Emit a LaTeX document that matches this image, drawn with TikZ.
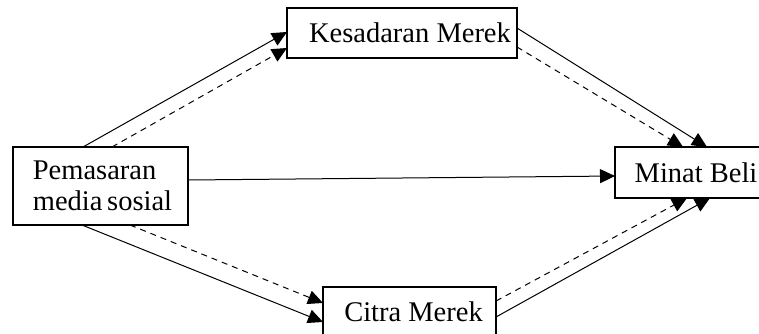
\documentclass[tikz,border=0pt]{standalone}
\usepackage{fontspec}
\setmainfont{Liberation Serif}
\usetikzlibrary{arrows.meta}
\begin{document}
\begin{tikzpicture}[x=1pt,y=-1pt,
  box/.style={draw,line width=1.3pt,outer sep=0pt,inner sep=0pt,
    font=\fontsize{28.5}{31}\selectfont,align=center},
  link/.style={line width=1pt,-{Triangle[length=15pt,width=14pt]}},
  dlink/.style={link,dash pattern=on 6pt off 5pt}]
\useasboundingbox (0,0) rectangle (759,333);
\node[box,align=left,minimum width=175pt,minimum height=78pt] (pm) at (100.5,186) {\hspace*{4pt}Pemasaran\\\hspace*{4pt}media\,sosial};
\node[box,minimum width=230pt,minimum height=50pt] (ks) at (402,33) {\hspace*{16pt}Kesadaran Merek};
\node[box,minimum width=160pt,minimum height=51pt] (mb) at (695,172.5) {\hspace*{2pt}Minat Beli};
\node[box,minimum width=173pt,minimum height=50pt] (cm) at (409.5,312) {\hspace*{8pt}Citra Merek};
\draw[link] ([xshift=70pt]pm.north west) -- ([yshift=-24pt]ks.north west);
\draw[dlink] ([xshift=99pt]pm.north west) -- ([yshift=-40pt]ks.north west);
\draw[link] ([yshift=-20pt]ks.north east) -- ([xshift=92pt]mb.north west);
\draw[dlink] ([yshift=-39pt]ks.north east) -- ([xshift=68pt]mb.north west);
\draw[link] ([yshift=-33pt]pm.north east) -- ([yshift=-29pt]mb.north west);
\draw[link] ([xshift=69pt]pm.south west) -- ([yshift=-35pt]cm.north west);
\draw[dlink] ([xshift=117pt]pm.south west) -- ([yshift=-16pt]cm.north west);
\draw[dlink] ([yshift=-14pt]cm.north east) -- ([xshift=72pt]mb.south west);
\draw[link] ([yshift=-30pt]cm.north east) -- ([xshift=95pt]mb.south west);
\end{tikzpicture}
\end{document}
